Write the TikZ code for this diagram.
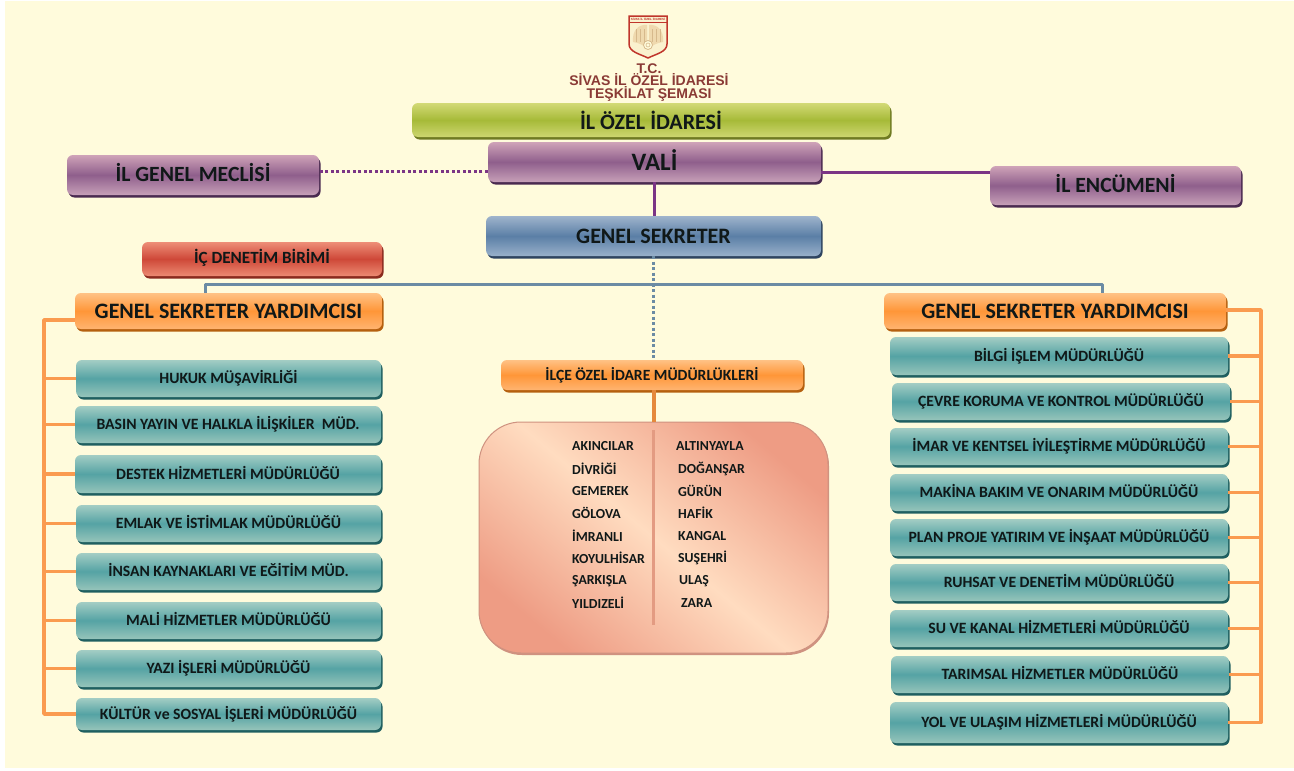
\documentclass[tikz,border=0pt]{standalone}
\usepackage{fontspec}
\setmainfont{Carlito}
\newfontfamily\titlefont{Liberation Sans}
\usetikzlibrary{shadows}
\definecolor{pagebg}{HTML}{FFFBDC}
\definecolor{orgline}{HTML}{FA9B50}
\definecolor{purline}{HTML}{7B3585}
\definecolor{steelline}{HTML}{6B8BA4}
\definecolor{darkink}{HTML}{101818}
\definecolor{tealtop}{HTML}{A3CDC4}
\definecolor{tealbot}{HTML}{96C4BA}
\definecolor{tealmid}{HTML}{55A3A4}
\definecolor{tealdark}{HTML}{1F5F60}
\definecolor{orangetop}{HTML}{FFC285}
\definecolor{orangebot}{HTML}{FFB470}
\definecolor{orangemid}{HTML}{FF9638}
\definecolor{orangedark}{HTML}{B5600F}
\definecolor{purpletop}{HTML}{CFA3B8}
\definecolor{purplebot}{HTML}{C7A0B8}
\definecolor{purplemid}{HTML}{8F5F8C}
\definecolor{purpledark}{HTML}{4A2A50}
\definecolor{bluetop}{HTML}{9FB4CC}
\definecolor{bluebot}{HTML}{98B0CA}
\definecolor{bluemid}{HTML}{5B7FA6}
\definecolor{bluedark}{HTML}{2E4460}
\definecolor{redtop}{HTML}{EE8E78}
\definecolor{redbot}{HTML}{EC8A72}
\definecolor{redmid}{HTML}{CE4838}
\definecolor{reddark}{HTML}{8A2A1E}
\definecolor{olivetop}{HTML}{D3DA76}
\definecolor{olivebot}{HTML}{CDD670}
\definecolor{olivemid}{HTML}{A6BA38}
\definecolor{olivedark}{HTML}{6F7A22}
\definecolor{panellight}{HTML}{FFDCC0}
\definecolor{paneldark}{HTML}{EE9C84}
\definecolor{paneledge}{HTML}{CF9280}
\definecolor{paneldiv}{HTML}{E39B82}
\definecolor{titlered}{HTML}{8A3A35}
\definecolor{shieldred}{HTML}{C0352B}
\definecolor{wingtan}{HTML}{EFD9AE}
\definecolor{wingline}{HTML}{D6B98C}
\tikzset{
    orgbox/.style n args={4}{rounded corners=6pt, inner sep=0pt, font=\bfseries,
        text=darkink, top color=#1, bottom color=#2, middle color=#3,
        drop shadow={shadow xshift=1.5pt, shadow yshift=-2.5pt, fill=#4, opacity=1}},
    tealbox/.style={orgbox={tealtop}{tealbot}{tealmid}{tealdark}, text height=14.6pt, text depth=4pt,
        font=\bfseries\fontsize{15.7}{17}\selectfont},
    orangebox/.style={orgbox={orangetop}{orangebot}{orangemid}{orangedark}},
    purplebox/.style={orgbox={purpletop}{purplebot}{purplemid}{purpledark}},
    bluebox/.style={orgbox={bluetop}{bluebot}{bluemid}{bluedark}},
    redbox/.style={orgbox={redtop}{redbot}{redmid}{reddark}},
    olivebox/.style={orgbox={olivetop}{olivebot}{olivemid}{olivedark}},
    orgbranch/.style={draw=orgline, line width=3.5pt, line join=round},
    district/.style={anchor=west, inner sep=0pt, font=\bfseries\fontsize{13.8}{15}\selectfont, text=darkink}
}
\begin{document}
\begin{tikzpicture}[x=1pt, y=-1pt]
    \useasboundingbox (0,0) rectangle (1294,771);
    \fill[white] (0,0) rectangle (1294,771);
    \fill[pagebg] (5,1) rectangle (1294,768);

    % emblem and title
    \node[inner sep=0pt, font=\titlefont\bfseries\fontsize{14}{12.5}\selectfont, text=titlered, align=center] (title) at (649,82.5)
        {T.C.\\SİVAS İL ÖZEL İDARESİ\\TEŞKİLAT ŞEMASI};
    \draw[draw=shieldred, line width=1.5pt, fill=pagebg!70!wingtan] (629,16) -- (667,16) -- (667,44)
        .. controls (667,52) and (656,54) .. (648,58) .. controls (640,54) and (629,52) .. (629,44) -- cycle;
    \draw[shieldred, line width=0.6pt] (629,22.5) -- (667,22.5);
    \node[inner sep=0pt, font=\titlefont\bfseries\fontsize{3}{3}\selectfont, text=shieldred] (shieldtext) at (648,19.5) {SİVAS İL ÖZEL İDARESİ};
    \fill[wingtan] (647,25) .. controls (638,24) and (632,31) .. (633,42) .. controls (639,43) and (644,45) .. (647,49) -- cycle;
    \fill[wingtan] (649,25) .. controls (658,24) and (664,31) .. (663,42) .. controls (657,43) and (652,45) .. (649,49) -- cycle;
    \foreach \feather in {636,640,644} {
        \draw[wingline, line width=0.3pt] (\feather,29) -- (\feather,42);
        \draw[wingline, line width=0.3pt] (1296-\feather,29) -- (1296-\feather,42);
    }
    \draw[wingline, line width=0.8pt, fill=pagebg] (648,45) circle (4.5pt);
    \draw[wingline, line width=0.6pt] (648,45) circle (2pt);

    % top levels
    \node[olivebox, minimum width=478pt, minimum height=34pt, font=\bfseries\fontsize{22}{24}\selectfont] (ozel) at (651,120) {İL ÖZEL İDARESİ};
    \node[purplebox, minimum width=333pt, minimum height=40pt, text height=22pt, text depth=6pt, font=\bfseries\fontsize{25}{27}\selectfont] (vali) at (654.5,162) {VALİ};
    \node[purplebox, minimum width=252pt, minimum height=40pt, text height=20pt, text depth=8pt, font=\bfseries\fontsize{21.7}{23}\selectfont] (meclis) at (193,175) {İL GENEL MECLİSİ};
    \node[purplebox, minimum width=251pt, minimum height=39pt, text height=20pt, text depth=6pt, font=\bfseries\fontsize{21.7}{23}\selectfont] (encumen) at (1115.5,185.5) {İL ENCÜMENİ};
    \node[bluebox, minimum width=335pt, minimum height=40pt, text height=20pt, text depth=5pt, font=\bfseries\fontsize{22}{24}\selectfont] (sekreter) at (653.5,236) {GENEL SEKRETER};
    \node[redbox, minimum width=240pt, minimum height=34pt, text height=15pt, text depth=6pt, font=\bfseries\fontsize{17.1}{19}\selectfont] (denetim) at (262,259) {İÇ DENETİM BİRİMİ};
    \node[orangebox, minimum width=307pt, minimum height=36pt, font=\bfseries\fontsize{22}{24}\selectfont] (yardl) at (228.5,311) {GENEL SEKRETER YARDIMCISI};
    \node[orangebox, minimum width=342pt, minimum height=36pt, font=\bfseries\fontsize{22}{24}\selectfont] (yardr) at (1055,311) {GENEL SEKRETER YARDIMCISI};
    \node[orangebox, minimum width=302pt, minimum height=30pt, font=\bfseries\fontsize{15.6}{18}\selectfont] (ilce) at (652,375) {İLÇE ÖZEL İDARE MÜDÜRLÜKLERİ};

    % connectors of the top levels
    \draw[purline, line width=3pt, dash pattern=on 3pt off 2.5pt] (vali.west |- 0,171) coordinate (valil) -- (meclis.east |- valil);
    \draw[purline, line width=3pt] (vali.east |- 0,172) coordinate (valir) -- (encumen.west |- valir);
    \draw[purline, line width=3pt] (vali.south) -- (sekreter.north -| vali.south);
    \coordinate (busl) at (205,284);
    \coordinate (busr) at (1102,284);
    \draw[steelline, line width=3pt, line join=round] (yardl.north -| busl) -- (busl) -- (busr) -- (yardr.north -| busr);
    \draw[steelline, line width=3.5pt, dash pattern=on 3pt off 2.5pt] (sekreter.south) -- (ilce.north -| sekreter.south);

    % district panel
    \node[rounded corners=42pt, minimum width=349pt, minimum height=231pt, inner sep=0pt, draw=paneledge, line width=1pt,
        top color=paneldark, bottom color=paneldark, middle color=panellight, shading angle=-40,
        drop shadow={shadow xshift=1pt, shadow yshift=-2pt, fill=paneledge, opacity=1}] (panel) at (653.5,537.5) {};
    \draw[orgline!70!orangedark, line width=3.5pt] (ilce.south -| 654,0) -- (panel.north -| 654,0);
    \draw[paneldiv, line width=3pt] (653,430) coordinate (divtop) -- (653,625) coordinate (divbot);
    \foreach \x/\y/\name in {
        572/446/AKINCILAR, 572/469/DİVRİĞİ, 572/491/GEMEREK, 572/513/GÖLOVA,
        572/536/İMRANLI, 572/558/KOYULHİSAR, 572/581/ŞARKIŞLA, 572/603/YILDIZELİ,
        676/446/ALTINYAYLA, 678/469/DOĞANŞAR, 678/491/GÜRÜN, 678/513/HAFİK,
        678/536/KANGAL, 678/558/SUŞEHRİ, 679/581/ULAŞ, 681/603/ZARA
    } {
        \node[district] at (\x,\y) {\name};
    }

    % left column
    \coordinate (spinel) at (44,0);
    \foreach \i/\x/\ytop/\ybot/\name in {
        1/76/360/397/HUKUK MÜŞAVİRLİĞİ,
        2/75/406/443/BASIN YAYIN VE HALKLA İLİŞKİLER\ \ MÜD.,
        3/75/455/493/DESTEK HİZMETLERİ MÜDÜRLÜĞÜ,
        4/76/505/542/EMLAK VE İSTİMLAK MÜDÜRLÜĞÜ,
        5/76/553/590/İNSAN KAYNAKLARI VE EĞİTİM MÜD.,
        6/76/602/639/MALİ HİZMETLER MÜDÜRLÜĞÜ,
        7/76/650/687/YAZI İŞLERİ MÜDÜRLÜĞÜ,
        8/76/698/730/KÜLTÜR ve SOSYAL İŞLERİ MÜDÜRLÜĞÜ
    } {
        \pgfmathsetmacro{\boxw}{381-\x}
        \pgfmathsetmacro{\boxh}{\ybot-\ytop}
        \node[tealbox, minimum width=\boxw pt, minimum height=\boxh pt]
            (left\i) at ({(381+\x)/2},{(\ytop+\ybot)/2}) {\name};
        \draw[orgbranch] (left\i.west) -- (left\i.west -| spinel);
    }
    \draw[orgbranch] (yardl.west |- 0,320) coordinate (yardlb) -- (yardlb -| spinel) -- (left8.west -| spinel) -- (left8.west);

    % right column
    \coordinate (spiner) at (1261,0);
    \foreach \i/\x/\xr/\ytop/\ybot/\name in {
        1/890/1228/337/375/BİLGİ İŞLEM MÜDÜRLÜĞÜ,
        2/892/1230/383/420/ÇEVRE KORUMA VE KONTROL MÜDÜRLÜĞÜ,
        3/890/1228/428/465/İMAR VE KENTSEL İYİLEŞTİRME MÜDÜRLÜĞÜ,
        4/890/1228/474/511/MAKİNA BAKIM VE ONARIM MÜDÜRLÜĞÜ,
        5/890/1228/519/556/PLAN PROJE YATIRIM VE İNŞAAT MÜDÜRLÜĞÜ,
        6/890/1228/564/601/RUHSAT VE DENETİM MÜDÜRLÜĞÜ,
        7/890/1228/610/647/SU VE KANAL HİZMETLERİ MÜDÜRLÜĞÜ,
        8/891/1229/656/693/TARIMSAL HİZMETLER MÜDÜRLÜĞÜ,
        9/890/1228/702/743/YOL VE ULAŞIM HİZMETLERİ MÜDÜRLÜĞÜ
    } {
        \pgfmathsetmacro{\boxw}{\xr-\x}
        \pgfmathsetmacro{\boxh}{\ybot-\ytop}
        \node[tealbox, minimum width=\boxw pt, minimum height=\boxh pt]
            (right\i) at ({(\xr+\x)/2},{(\ytop+\ybot)/2}) {\name};
        \draw[orgbranch] (right\i.east) -- (right\i.east -| spiner);
    }
    \draw[orgbranch] (yardr.east |- 0,310) coordinate (yardrb) -- (yardrb -| spiner) -- (right9.east -| spiner) -- (right9.east);
\end{tikzpicture}
\end{document}
